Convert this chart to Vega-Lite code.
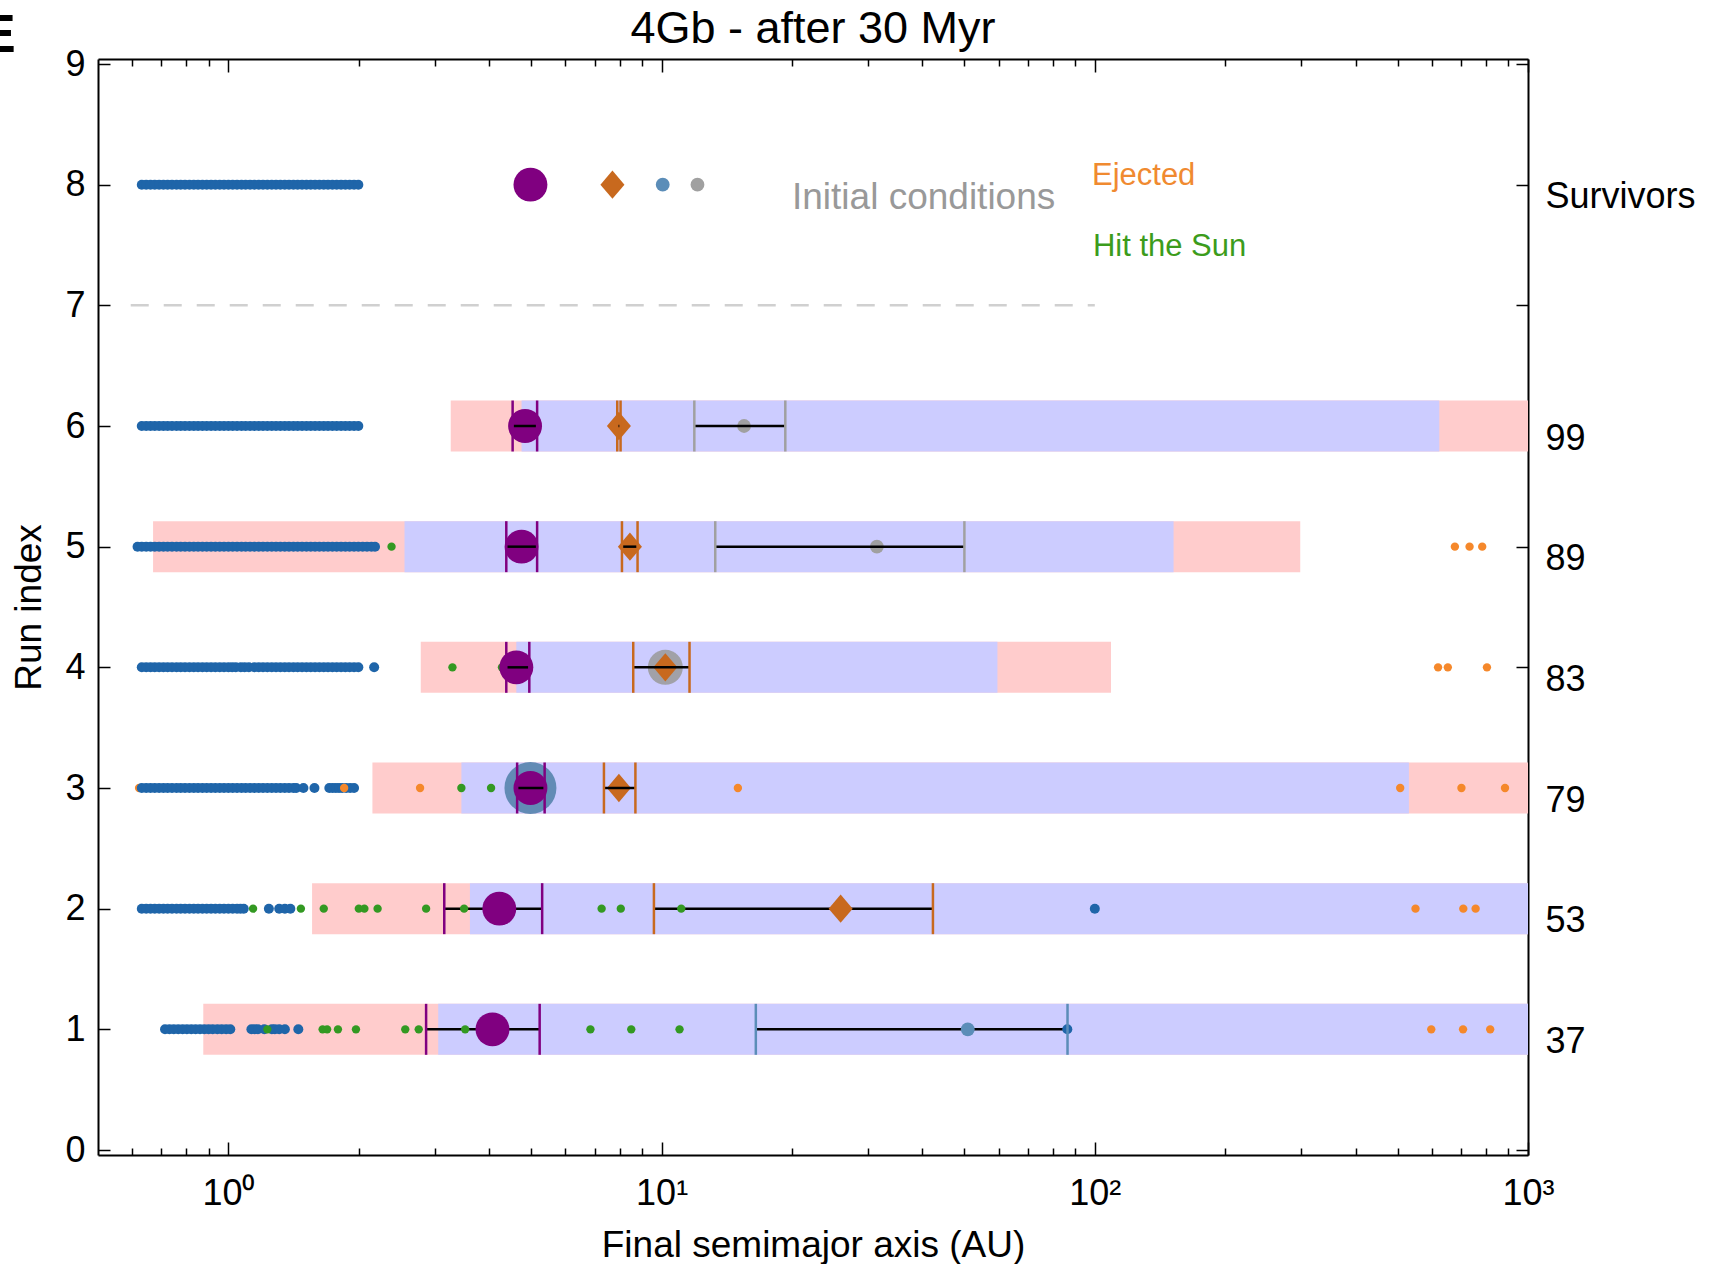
{
  "$schema": "https://vega.github.io/schema/vega-lite/v6.json",
  "width": 1430,
  "height": 1096,
  "autosize": {"type": "none"},
  "padding": {"left": 98, "top": 59, "right": 188, "bottom": 109},
  "background": "white",
  "title": {"text": "4Gb - after 30 Myr", "fontSize": 45, "font": "Liberation Sans", "fontWeight": "normal", "color": "black", "offset": -43, "anchor": "middle"},
  "config": {
    "view": {"stroke": null},
    "axis": {"grid": false, "labelFont": "Liberation Sans", "titleFont": "Liberation Sans", "labelFontSize": 36, "titleFontSize": 37, "titleFontWeight": "normal", "labelColor": "black", "titleColor": "black", "tickColor": "black", "tickWidth": 1.5, "domainColor": "black", "domainWidth": 2, "zindex": 1, "labelOverlap": false, "labelFlush": false}
  },
  "datasets": {
    "bars": [
      {"run": 6, "lo": 3.26, "hi": 1000, "kind": "all"},
      {"run": 5, "lo": 0.67, "hi": 298, "kind": "all"},
      {"run": 4, "lo": 2.78, "hi": 109, "kind": "all"},
      {"run": 3, "lo": 2.15, "hi": 1000, "kind": "all"},
      {"run": 2, "lo": 1.56, "hi": 1000, "kind": "all"},
      {"run": 1, "lo": 0.875, "hi": 1000, "kind": "all"},
      {"run": 6, "lo": 4.75, "hi": 624, "kind": "core"},
      {"run": 5, "lo": 2.55, "hi": 152, "kind": "core"},
      {"run": 4, "lo": 4.62, "hi": 59.6, "kind": "core"},
      {"run": 3, "lo": 3.45, "hi": 531, "kind": "core"},
      {"run": 2, "lo": 3.61, "hi": 1000, "kind": "core"},
      {"run": 1, "lo": 3.05, "hi": 1000, "kind": "core"}
    ],
    "guide": [{"lo": 0.595, "hi": 100, "run": 7}],
    "err": [
      {"run": 6, "body": "Jupiter", "lo": 4.53, "hi": 5.16},
      {"run": 6, "body": "Saturn", "lo": 7.9, "hi": 8.04},
      {"run": 6, "body": "Neptune", "lo": 11.9, "hi": 19.3},
      {"run": 5, "body": "Jupiter", "lo": 4.38, "hi": 5.16},
      {"run": 5, "body": "Saturn", "lo": 8.1, "hi": 8.8},
      {"run": 5, "body": "Neptune", "lo": 13.3, "hi": 50.0},
      {"run": 4, "body": "Jupiter", "lo": 4.38, "hi": 4.95},
      {"run": 4, "body": "Saturn", "lo": 8.6, "hi": 11.6},
      {"run": 3, "body": "Jupiter", "lo": 4.64, "hi": 5.37},
      {"run": 3, "body": "Saturn", "lo": 7.36, "hi": 8.7},
      {"run": 2, "body": "Jupiter", "lo": 3.15, "hi": 5.3},
      {"run": 2, "body": "Saturn", "lo": 9.6, "hi": 42.3},
      {"run": 1, "body": "Jupiter", "lo": 2.86, "hi": 5.23},
      {"run": 1, "body": "Uranus", "lo": 16.5, "hi": 86.5}
    ],
    "halos": [
      {"run": 3, "a": 4.98, "body": "Uranus"},
      {"run": 4, "a": 10.2, "body": "Neptune"}
    ],
    "planets": [
      {"run": 8, "a": 4.98, "body": "Jupiter"},
      {"run": 8, "a": 7.7, "body": "Saturn"},
      {"run": 8, "a": 10.06, "body": "Uranus"},
      {"run": 8, "a": 12.1, "body": "Neptune"},
      {"run": 6, "a": 4.84, "body": "Jupiter"},
      {"run": 6, "a": 7.97, "body": "Saturn"},
      {"run": 6, "a": 15.5, "body": "Neptune"},
      {"run": 5, "a": 4.75, "body": "Jupiter"},
      {"run": 5, "a": 8.45, "body": "Saturn"},
      {"run": 5, "a": 31.4, "body": "Neptune"},
      {"run": 4, "a": 4.62, "body": "Jupiter"},
      {"run": 4, "a": 10.2, "body": "Saturn"},
      {"run": 3, "a": 4.98, "body": "Jupiter"},
      {"run": 3, "a": 7.97, "body": "Saturn"},
      {"run": 2, "a": 4.22, "body": "Jupiter"},
      {"run": 2, "a": 25.9, "body": "Saturn"},
      {"run": 1, "a": 4.07, "body": "Jupiter"},
      {"run": 1, "a": 50.9, "body": "Uranus"}
    ],
    "labels": [
      {"a": 20, "run": 7.89, "label": "Initial conditions", "kind": "init"},
      {"a": 98.5, "run": 8.07, "label": "Ejected", "kind": "ejected"},
      {"a": 99, "run": 7.48, "label": "Hit the Sun", "kind": "sun"}
    ],
    "panel": [{"a": 0.323, "run": 9.23, "label": "E"}],
    "dots": [
      {"run": 8, "a": 0.631, "kind": "survivor"}, {"run": 8, "a": 0.646, "kind": "survivor"}, {"run": 8, "a": 0.661, "kind": "survivor"}, {"run": 8, "a": 0.676, "kind": "survivor"}, {"run": 8, "a": 0.692, "kind": "survivor"}, {"run": 8, "a": 0.708, "kind": "survivor"}, {"run": 8, "a": 0.724, "kind": "survivor"}, {"run": 8, "a": 0.741, "kind": "survivor"}, {"run": 8, "a": 0.759, "kind": "survivor"}, {"run": 8, "a": 0.776, "kind": "survivor"}, {"run": 8, "a": 0.794, "kind": "survivor"}, {"run": 8, "a": 0.813, "kind": "survivor"}, {"run": 8, "a": 0.832, "kind": "survivor"}, {"run": 8, "a": 0.851, "kind": "survivor"}, {"run": 8, "a": 0.871, "kind": "survivor"}, {"run": 8, "a": 0.891, "kind": "survivor"}, {"run": 8, "a": 0.912, "kind": "survivor"}, {"run": 8, "a": 0.933, "kind": "survivor"}, {"run": 8, "a": 0.955, "kind": "survivor"}, {"run": 8, "a": 0.977, "kind": "survivor"}, {"run": 8, "a": 1.0, "kind": "survivor"}, {"run": 8, "a": 1.023, "kind": "survivor"}, {"run": 8, "a": 1.047, "kind": "survivor"}, {"run": 8, "a": 1.072, "kind": "survivor"}, {"run": 8, "a": 1.096, "kind": "survivor"}, {"run": 8, "a": 1.122, "kind": "survivor"}, {"run": 8, "a": 1.148, "kind": "survivor"}, {"run": 8, "a": 1.175, "kind": "survivor"}, {"run": 8, "a": 1.202, "kind": "survivor"}, {"run": 8, "a": 1.23, "kind": "survivor"}, {"run": 8, "a": 1.259, "kind": "survivor"}, {"run": 8, "a": 1.288, "kind": "survivor"}, {"run": 8, "a": 1.318, "kind": "survivor"}, {"run": 8, "a": 1.349, "kind": "survivor"}, {"run": 8, "a": 1.38, "kind": "survivor"}, {"run": 8, "a": 1.413, "kind": "survivor"}, {"run": 8, "a": 1.445, "kind": "survivor"}, {"run": 8, "a": 1.479, "kind": "survivor"}, {"run": 8, "a": 1.514, "kind": "survivor"}, {"run": 8, "a": 1.549, "kind": "survivor"}, {"run": 8, "a": 1.585, "kind": "survivor"}, {"run": 8, "a": 1.622, "kind": "survivor"}, {"run": 8, "a": 1.66, "kind": "survivor"}, {"run": 8, "a": 1.698, "kind": "survivor"}, {"run": 8, "a": 1.738, "kind": "survivor"}, {"run": 8, "a": 1.778, "kind": "survivor"}, {"run": 8, "a": 1.82, "kind": "survivor"}, {"run": 8, "a": 1.862, "kind": "survivor"}, {"run": 8, "a": 1.905, "kind": "survivor"}, {"run": 8, "a": 1.95, "kind": "survivor"}, {"run": 8, "a": 1.995, "kind": "survivor"},
      {"run": 6, "a": 0.631, "kind": "survivor"}, {"run": 6, "a": 0.646, "kind": "survivor"}, {"run": 6, "a": 0.661, "kind": "survivor"}, {"run": 6, "a": 0.676, "kind": "survivor"}, {"run": 6, "a": 0.692, "kind": "survivor"}, {"run": 6, "a": 0.708, "kind": "survivor"}, {"run": 6, "a": 0.724, "kind": "survivor"}, {"run": 6, "a": 0.741, "kind": "survivor"}, {"run": 6, "a": 0.759, "kind": "survivor"}, {"run": 6, "a": 0.776, "kind": "survivor"}, {"run": 6, "a": 0.794, "kind": "survivor"}, {"run": 6, "a": 0.813, "kind": "survivor"}, {"run": 6, "a": 0.832, "kind": "survivor"}, {"run": 6, "a": 0.851, "kind": "survivor"}, {"run": 6, "a": 0.871, "kind": "survivor"}, {"run": 6, "a": 0.891, "kind": "survivor"}, {"run": 6, "a": 0.912, "kind": "survivor"}, {"run": 6, "a": 0.933, "kind": "survivor"}, {"run": 6, "a": 0.955, "kind": "survivor"}, {"run": 6, "a": 0.977, "kind": "survivor"}, {"run": 6, "a": 1.0, "kind": "survivor"}, {"run": 6, "a": 1.023, "kind": "survivor"}, {"run": 6, "a": 1.047, "kind": "survivor"}, {"run": 6, "a": 1.072, "kind": "survivor"}, {"run": 6, "a": 1.096, "kind": "survivor"}, {"run": 6, "a": 1.122, "kind": "survivor"}, {"run": 6, "a": 1.148, "kind": "survivor"}, {"run": 6, "a": 1.175, "kind": "survivor"}, {"run": 6, "a": 1.202, "kind": "survivor"}, {"run": 6, "a": 1.23, "kind": "survivor"}, {"run": 6, "a": 1.259, "kind": "survivor"}, {"run": 6, "a": 1.288, "kind": "survivor"}, {"run": 6, "a": 1.318, "kind": "survivor"}, {"run": 6, "a": 1.349, "kind": "survivor"}, {"run": 6, "a": 1.38, "kind": "survivor"}, {"run": 6, "a": 1.413, "kind": "survivor"}, {"run": 6, "a": 1.445, "kind": "survivor"}, {"run": 6, "a": 1.479, "kind": "survivor"}, {"run": 6, "a": 1.514, "kind": "survivor"}, {"run": 6, "a": 1.549, "kind": "survivor"}, {"run": 6, "a": 1.585, "kind": "survivor"}, {"run": 6, "a": 1.622, "kind": "survivor"}, {"run": 6, "a": 1.66, "kind": "survivor"}, {"run": 6, "a": 1.698, "kind": "survivor"}, {"run": 6, "a": 1.738, "kind": "survivor"}, {"run": 6, "a": 1.778, "kind": "survivor"}, {"run": 6, "a": 1.82, "kind": "survivor"}, {"run": 6, "a": 1.862, "kind": "survivor"}, {"run": 6, "a": 1.905, "kind": "survivor"}, {"run": 6, "a": 1.95, "kind": "survivor"}, {"run": 6, "a": 1.995, "kind": "survivor"},
      {"run": 5, "a": 0.617, "kind": "survivor"}, {"run": 5, "a": 0.631, "kind": "survivor"}, {"run": 5, "a": 0.646, "kind": "survivor"}, {"run": 5, "a": 0.661, "kind": "survivor"}, {"run": 5, "a": 0.676, "kind": "survivor"}, {"run": 5, "a": 0.692, "kind": "survivor"}, {"run": 5, "a": 0.708, "kind": "survivor"}, {"run": 5, "a": 0.724, "kind": "survivor"}, {"run": 5, "a": 0.741, "kind": "survivor"}, {"run": 5, "a": 0.759, "kind": "survivor"}, {"run": 5, "a": 0.776, "kind": "survivor"}, {"run": 5, "a": 0.794, "kind": "survivor"}, {"run": 5, "a": 0.813, "kind": "survivor"}, {"run": 5, "a": 0.832, "kind": "survivor"}, {"run": 5, "a": 0.851, "kind": "survivor"}, {"run": 5, "a": 0.871, "kind": "survivor"}, {"run": 5, "a": 0.891, "kind": "survivor"}, {"run": 5, "a": 0.912, "kind": "survivor"}, {"run": 5, "a": 0.933, "kind": "survivor"}, {"run": 5, "a": 0.955, "kind": "survivor"}, {"run": 5, "a": 0.977, "kind": "survivor"}, {"run": 5, "a": 1.0, "kind": "survivor"}, {"run": 5, "a": 1.023, "kind": "survivor"}, {"run": 5, "a": 1.047, "kind": "survivor"}, {"run": 5, "a": 1.072, "kind": "survivor"}, {"run": 5, "a": 1.096, "kind": "survivor"}, {"run": 5, "a": 1.122, "kind": "survivor"}, {"run": 5, "a": 1.148, "kind": "survivor"}, {"run": 5, "a": 1.175, "kind": "survivor"}, {"run": 5, "a": 1.202, "kind": "survivor"}, {"run": 5, "a": 1.23, "kind": "survivor"}, {"run": 5, "a": 1.259, "kind": "survivor"}, {"run": 5, "a": 1.288, "kind": "survivor"}, {"run": 5, "a": 1.318, "kind": "survivor"}, {"run": 5, "a": 1.349, "kind": "survivor"}, {"run": 5, "a": 1.38, "kind": "survivor"}, {"run": 5, "a": 1.413, "kind": "survivor"}, {"run": 5, "a": 1.445, "kind": "survivor"}, {"run": 5, "a": 1.479, "kind": "survivor"}, {"run": 5, "a": 1.514, "kind": "survivor"}, {"run": 5, "a": 1.549, "kind": "survivor"}, {"run": 5, "a": 1.585, "kind": "survivor"}, {"run": 5, "a": 1.622, "kind": "survivor"}, {"run": 5, "a": 1.66, "kind": "survivor"}, {"run": 5, "a": 1.698, "kind": "survivor"}, {"run": 5, "a": 1.738, "kind": "survivor"}, {"run": 5, "a": 1.778, "kind": "survivor"}, {"run": 5, "a": 1.82, "kind": "survivor"}, {"run": 5, "a": 1.862, "kind": "survivor"}, {"run": 5, "a": 1.905, "kind": "survivor"}, {"run": 5, "a": 1.95, "kind": "survivor"}, {"run": 5, "a": 1.995, "kind": "survivor"}, {"run": 5, "a": 2.042, "kind": "survivor"}, {"run": 5, "a": 2.089, "kind": "survivor"}, {"run": 5, "a": 2.138, "kind": "survivor"}, {"run": 5, "a": 2.18, "kind": "survivor"},
      {"run": 5, "a": 2.38, "kind": "sun"},
      {"run": 5, "a": 678, "kind": "ejected"}, {"run": 5, "a": 733, "kind": "ejected"}, {"run": 5, "a": 784, "kind": "ejected"},
      {"run": 4, "a": 0.631, "kind": "survivor"}, {"run": 4, "a": 0.646, "kind": "survivor"}, {"run": 4, "a": 0.661, "kind": "survivor"}, {"run": 4, "a": 0.676, "kind": "survivor"}, {"run": 4, "a": 0.692, "kind": "survivor"}, {"run": 4, "a": 0.708, "kind": "survivor"}, {"run": 4, "a": 0.724, "kind": "survivor"}, {"run": 4, "a": 0.741, "kind": "survivor"}, {"run": 4, "a": 0.759, "kind": "survivor"}, {"run": 4, "a": 0.776, "kind": "survivor"}, {"run": 4, "a": 0.794, "kind": "survivor"}, {"run": 4, "a": 0.813, "kind": "survivor"}, {"run": 4, "a": 0.832, "kind": "survivor"}, {"run": 4, "a": 0.851, "kind": "survivor"}, {"run": 4, "a": 0.871, "kind": "survivor"}, {"run": 4, "a": 0.891, "kind": "survivor"}, {"run": 4, "a": 0.912, "kind": "survivor"}, {"run": 4, "a": 0.933, "kind": "survivor"}, {"run": 4, "a": 0.955, "kind": "survivor"}, {"run": 4, "a": 0.977, "kind": "survivor"}, {"run": 4, "a": 1.0, "kind": "survivor"}, {"run": 4, "a": 1.02, "kind": "survivor"}, {"run": 4, "a": 1.04, "kind": "survivor"}, {"run": 4, "a": 1.068, "kind": "survivor"}, {"run": 4, "a": 1.09, "kind": "survivor"}, {"run": 4, "a": 1.115, "kind": "survivor"}, {"run": 4, "a": 1.148, "kind": "survivor"}, {"run": 4, "a": 1.175, "kind": "survivor"}, {"run": 4, "a": 1.202, "kind": "survivor"}, {"run": 4, "a": 1.23, "kind": "survivor"}, {"run": 4, "a": 1.259, "kind": "survivor"}, {"run": 4, "a": 1.288, "kind": "survivor"}, {"run": 4, "a": 1.318, "kind": "survivor"}, {"run": 4, "a": 1.349, "kind": "survivor"}, {"run": 4, "a": 1.38, "kind": "survivor"}, {"run": 4, "a": 1.413, "kind": "survivor"}, {"run": 4, "a": 1.445, "kind": "survivor"}, {"run": 4, "a": 1.479, "kind": "survivor"}, {"run": 4, "a": 1.514, "kind": "survivor"}, {"run": 4, "a": 1.549, "kind": "survivor"}, {"run": 4, "a": 1.585, "kind": "survivor"}, {"run": 4, "a": 1.622, "kind": "survivor"}, {"run": 4, "a": 1.66, "kind": "survivor"}, {"run": 4, "a": 1.698, "kind": "survivor"}, {"run": 4, "a": 1.738, "kind": "survivor"}, {"run": 4, "a": 1.778, "kind": "survivor"}, {"run": 4, "a": 1.82, "kind": "survivor"}, {"run": 4, "a": 1.862, "kind": "survivor"}, {"run": 4, "a": 1.905, "kind": "survivor"}, {"run": 4, "a": 1.95, "kind": "survivor"}, {"run": 4, "a": 1.995, "kind": "survivor"}, {"run": 4, "a": 2.17, "kind": "survivor"},
      {"run": 4, "a": 3.29, "kind": "sun"}, {"run": 4, "a": 4.28, "kind": "sun"},
      {"run": 4, "a": 620, "kind": "ejected"}, {"run": 4, "a": 653, "kind": "ejected"}, {"run": 4, "a": 804, "kind": "ejected"},
      {"run": 3, "a": 0.622, "kind": "ejected"},
      {"run": 3, "a": 0.631, "kind": "survivor"}, {"run": 3, "a": 0.646, "kind": "survivor"}, {"run": 3, "a": 0.661, "kind": "survivor"}, {"run": 3, "a": 0.676, "kind": "survivor"}, {"run": 3, "a": 0.692, "kind": "survivor"}, {"run": 3, "a": 0.708, "kind": "survivor"}, {"run": 3, "a": 0.724, "kind": "survivor"}, {"run": 3, "a": 0.741, "kind": "survivor"}, {"run": 3, "a": 0.759, "kind": "survivor"}, {"run": 3, "a": 0.776, "kind": "survivor"}, {"run": 3, "a": 0.794, "kind": "survivor"}, {"run": 3, "a": 0.813, "kind": "survivor"}, {"run": 3, "a": 0.832, "kind": "survivor"}, {"run": 3, "a": 0.851, "kind": "survivor"}, {"run": 3, "a": 0.871, "kind": "survivor"}, {"run": 3, "a": 0.891, "kind": "survivor"}, {"run": 3, "a": 0.912, "kind": "survivor"}, {"run": 3, "a": 0.933, "kind": "survivor"}, {"run": 3, "a": 0.955, "kind": "survivor"}, {"run": 3, "a": 0.977, "kind": "survivor"}, {"run": 3, "a": 1.0, "kind": "survivor"}, {"run": 3, "a": 1.023, "kind": "survivor"}, {"run": 3, "a": 1.047, "kind": "survivor"}, {"run": 3, "a": 1.072, "kind": "survivor"}, {"run": 3, "a": 1.096, "kind": "survivor"}, {"run": 3, "a": 1.122, "kind": "survivor"}, {"run": 3, "a": 1.148, "kind": "survivor"}, {"run": 3, "a": 1.175, "kind": "survivor"}, {"run": 3, "a": 1.202, "kind": "survivor"}, {"run": 3, "a": 1.23, "kind": "survivor"}, {"run": 3, "a": 1.259, "kind": "survivor"}, {"run": 3, "a": 1.288, "kind": "survivor"}, {"run": 3, "a": 1.318, "kind": "survivor"}, {"run": 3, "a": 1.349, "kind": "survivor"}, {"run": 3, "a": 1.38, "kind": "survivor"}, {"run": 3, "a": 1.413, "kind": "survivor"}, {"run": 3, "a": 1.434, "kind": "survivor"}, {"run": 3, "a": 1.49, "kind": "survivor"}, {"run": 3, "a": 1.58, "kind": "survivor"}, {"run": 3, "a": 1.71, "kind": "survivor"}, {"run": 3, "a": 1.74, "kind": "survivor"}, {"run": 3, "a": 1.77, "kind": "survivor"}, {"run": 3, "a": 1.80, "kind": "survivor"}, {"run": 3, "a": 1.83, "kind": "survivor"}, {"run": 3, "a": 1.87, "kind": "survivor"}, {"run": 3, "a": 1.91, "kind": "survivor"}, {"run": 3, "a": 1.95, "kind": "survivor"},
      {"run": 3, "a": 1.85, "kind": "ejected"}, {"run": 3, "a": 2.77, "kind": "ejected"},
      {"run": 3, "a": 3.45, "kind": "sun"}, {"run": 3, "a": 4.04, "kind": "sun"},
      {"run": 3, "a": 15.0, "kind": "ejected"}, {"run": 3, "a": 507, "kind": "ejected"}, {"run": 3, "a": 702, "kind": "ejected"}, {"run": 3, "a": 885, "kind": "ejected"},
      {"run": 2, "a": 0.631, "kind": "survivor"}, {"run": 2, "a": 0.646, "kind": "survivor"}, {"run": 2, "a": 0.661, "kind": "survivor"}, {"run": 2, "a": 0.676, "kind": "survivor"}, {"run": 2, "a": 0.692, "kind": "survivor"}, {"run": 2, "a": 0.708, "kind": "survivor"}, {"run": 2, "a": 0.724, "kind": "survivor"}, {"run": 2, "a": 0.741, "kind": "survivor"}, {"run": 2, "a": 0.759, "kind": "survivor"}, {"run": 2, "a": 0.776, "kind": "survivor"}, {"run": 2, "a": 0.794, "kind": "survivor"}, {"run": 2, "a": 0.813, "kind": "survivor"}, {"run": 2, "a": 0.832, "kind": "survivor"}, {"run": 2, "a": 0.851, "kind": "survivor"}, {"run": 2, "a": 0.871, "kind": "survivor"}, {"run": 2, "a": 0.891, "kind": "survivor"}, {"run": 2, "a": 0.912, "kind": "survivor"}, {"run": 2, "a": 0.933, "kind": "survivor"}, {"run": 2, "a": 0.955, "kind": "survivor"}, {"run": 2, "a": 0.977, "kind": "survivor"}, {"run": 2, "a": 1.0, "kind": "survivor"}, {"run": 2, "a": 1.023, "kind": "survivor"}, {"run": 2, "a": 1.047, "kind": "survivor"}, {"run": 2, "a": 1.066, "kind": "survivor"}, {"run": 2, "a": 1.085, "kind": "survivor"}, {"run": 2, "a": 1.24, "kind": "survivor"}, {"run": 2, "a": 1.31, "kind": "survivor"}, {"run": 2, "a": 1.35, "kind": "survivor"}, {"run": 2, "a": 1.39, "kind": "survivor"}, {"run": 2, "a": 100, "kind": "survivor"},
      {"run": 2, "a": 1.14, "kind": "sun"}, {"run": 2, "a": 1.47, "kind": "sun"}, {"run": 2, "a": 1.66, "kind": "sun"}, {"run": 2, "a": 2.0, "kind": "sun"}, {"run": 2, "a": 2.06, "kind": "sun"}, {"run": 2, "a": 2.21, "kind": "sun"}, {"run": 2, "a": 2.86, "kind": "sun"}, {"run": 2, "a": 3.5, "kind": "sun"}, {"run": 2, "a": 7.27, "kind": "sun"}, {"run": 2, "a": 8.05, "kind": "sun"}, {"run": 2, "a": 11.1, "kind": "sun"},
      {"run": 2, "a": 550, "kind": "ejected"}, {"run": 2, "a": 709, "kind": "ejected"}, {"run": 2, "a": 757, "kind": "ejected"},
      {"run": 1, "a": 0.714, "kind": "survivor"}, {"run": 1, "a": 0.731, "kind": "survivor"}, {"run": 1, "a": 0.748, "kind": "survivor"}, {"run": 1, "a": 0.766, "kind": "survivor"}, {"run": 1, "a": 0.784, "kind": "survivor"}, {"run": 1, "a": 0.802, "kind": "survivor"}, {"run": 1, "a": 0.821, "kind": "survivor"}, {"run": 1, "a": 0.84, "kind": "survivor"}, {"run": 1, "a": 0.86, "kind": "survivor"}, {"run": 1, "a": 0.88, "kind": "survivor"}, {"run": 1, "a": 0.90, "kind": "survivor"}, {"run": 1, "a": 0.92, "kind": "survivor"}, {"run": 1, "a": 0.943, "kind": "survivor"}, {"run": 1, "a": 0.965, "kind": "survivor"}, {"run": 1, "a": 0.988, "kind": "survivor"}, {"run": 1, "a": 1.01, "kind": "survivor"}, {"run": 1, "a": 1.13, "kind": "survivor"}, {"run": 1, "a": 1.15, "kind": "survivor"}, {"run": 1, "a": 1.17, "kind": "survivor"}, {"run": 1, "a": 1.21, "kind": "survivor"}, {"run": 1, "a": 1.26, "kind": "survivor"}, {"run": 1, "a": 1.28, "kind": "survivor"}, {"run": 1, "a": 1.31, "kind": "survivor"}, {"run": 1, "a": 1.35, "kind": "survivor"}, {"run": 1, "a": 1.45, "kind": "survivor"}, {"run": 1, "a": 86.4, "kind": "survivor"},
      {"run": 1, "a": 1.23, "kind": "sun"}, {"run": 1, "a": 1.65, "kind": "sun"}, {"run": 1, "a": 1.69, "kind": "sun"}, {"run": 1, "a": 1.79, "kind": "sun"}, {"run": 1, "a": 1.97, "kind": "sun"}, {"run": 1, "a": 2.56, "kind": "sun"}, {"run": 1, "a": 2.75, "kind": "sun"}, {"run": 1, "a": 3.52, "kind": "sun"}, {"run": 1, "a": 6.85, "kind": "sun"}, {"run": 1, "a": 8.51, "kind": "sun"}, {"run": 1, "a": 11.0, "kind": "sun"},
      {"run": 1, "a": 598, "kind": "ejected"}, {"run": 1, "a": 708, "kind": "ejected"}, {"run": 1, "a": 818, "kind": "ejected"}
    ]
  },
  "resolve": {"axis": {"x": "independent", "y": "independent"}, "scale": {"color": "independent"}},
  "layer": [
    {
      "data": {"name": "bars"},
      "mark": {"type": "bar", "size": 51},
      "encoding": {
        "x": {"field": "lo", "type": "quantitative", "scale": {"type": "log", "domain": [0.5, 1000], "nice": false},
          "axis": {"orient": "bottom", "values": [1, 10, 100, 1000], "labelExpr": "datum.value == 1 ? '10⁰' : datum.value == 10 ? '10¹' : datum.value == 100 ? '10²' : '10³'", "tickSize": -13, "labelPadding": 34, "title": "Final semimajor axis (AU)", "titlePadding": 16, "domain": true}},
        "x2": {"field": "hi"},
        "y": {"field": "run", "type": "quantitative", "scale": {"domain": [0, 9], "nice": false, "zero": false},
          "axis": {"orient": "left", "values": [0, 1, 2, 3, 4, 5, 6, 7, 8, 9], "format": "d", "tickSize": -12, "labelPadding": 25, "title": "Run index", "titlePadding": 16, "domain": true}},
        "color": {"field": "kind", "type": "nominal", "scale": {"domain": ["all", "core"], "range": ["#ffcccc", "#ccccff"]}, "legend": null}
      }
    },
    {
      "data": {"name": "guide"},
      "mark": {"type": "rule", "color": "#d0d0d0", "strokeWidth": 2.5, "strokeDash": [18, 15]},
      "encoding": {
        "x": {"field": "lo", "type": "quantitative", "scale": {"type": "log", "domain": [0.5, 1000], "nice": false},
          "axis": {"orient": "bottom", "values": [0.6, 0.7, 0.8, 0.9, 2, 3, 4, 5, 6, 7, 8, 9, 20, 30, 40, 50, 60, 70, 80, 90, 200, 300, 400, 500, 600, 700, 800, 900], "labels": false, "tickSize": -7, "title": null, "domain": false}},
        "x2": {"field": "hi"},
        "y": {"field": "run", "type": "quantitative", "scale": {"domain": [0, 9], "nice": false, "zero": false},
          "axis": {"orient": "right", "values": [0, 1, 2, 3, 4, 5, 6, 7, 8, 9], "tickSize": -12, "labelPadding": 29, "labelOffset": 12, "labelAlign": "left", "labelExpr": "datum.value == 1 ? '37' : datum.value == 2 ? '53' : datum.value == 3 ? '79' : datum.value == 4 ? '83' : datum.value == 5 ? '89' : datum.value == 6 ? '99' : datum.value == 8 ? 'Survivors' : ''", "title": null, "domain": true}}
      }
    },
    {
      "data": {"name": "err"},
      "transform": [{"filter": "datum.run <= 2"}],
      "mark": {"type": "rule", "color": "black", "strokeWidth": 2.5},
      "encoding": {
        "x": {"field": "lo", "type": "quantitative", "scale": {"type": "log", "domain": [0.5, 1000], "nice": false},
          "axis": {"orient": "top", "values": [1, 10, 100, 1000], "labels": false, "tickSize": -13, "title": null, "domain": true}},
        "x2": {"field": "hi"},
        "y": {"field": "run", "type": "quantitative", "scale": {"domain": [0, 9], "nice": false, "zero": false}, "axis": null}
      }
    },
    {
      "data": {"name": "dots"},
      "mark": {"type": "point", "filled": true, "opacity": 1, "strokeWidth": 0},
      "encoding": {
        "x": {"field": "a", "type": "quantitative", "scale": {"type": "log", "domain": [0.5, 1000], "nice": false},
          "axis": {"orient": "top", "values": [0.6, 0.7, 0.8, 0.9, 2, 3, 4, 5, 6, 7, 8, 9, 20, 30, 40, 50, 60, 70, 80, 90, 200, 300, 400, 500, 600, 700, 800, 900], "labels": false, "tickSize": -7, "title": null, "domain": false}},
        "y": {"field": "run", "type": "quantitative", "scale": {"domain": [0, 9], "nice": false, "zero": false}, "axis": null},
        "color": {"field": "kind", "type": "nominal", "scale": {"domain": ["survivor", "sun", "ejected"], "range": ["#1f65a9", "#339922", "#f5882b"]}, "legend": null},
        "size": {"condition": {"test": "datum.kind == 'survivor'", "value": 100}, "value": 70}
      }
    },
    {
      "data": {"name": "halos"},
      "mark": {"type": "point", "filled": true, "opacity": 0.85, "strokeWidth": 0, "shape": "circle"},
      "encoding": {
        "x": {"field": "a", "type": "quantitative", "scale": {"type": "log", "domain": [0.5, 1000], "nice": false}, "axis": null},
        "y": {"field": "run", "type": "quantitative", "scale": {"domain": [0, 9], "nice": false, "zero": false}, "axis": null},
        "color": {"field": "body", "type": "nominal", "scale": {"domain": ["Uranus", "Neptune"], "range": ["#4f7fa8", "#999999"]}, "legend": null},
        "size": {"condition": {"test": "datum.body == 'Uranus'", "value": 2700}, "value": 1225}
      }
    },
    {
      "data": {"name": "planets"},
      "mark": {"type": "point", "filled": true, "opacity": 1, "strokeWidth": 0},
      "encoding": {
        "x": {"field": "a", "type": "quantitative", "scale": {"type": "log", "domain": [0.5, 1000], "nice": false}, "axis": null},
        "y": {"field": "run", "type": "quantitative", "scale": {"domain": [0, 9], "nice": false, "zero": false}, "axis": null},
        "color": {"field": "body", "type": "nominal", "scale": {"domain": ["Jupiter", "Saturn", "Uranus", "Neptune"], "range": ["#800080", "#c8691e", "#5b8db8", "#a0a0a0"]}, "legend": null},
        "shape": {"condition": {"test": "datum.body == 'Saturn'", "value": "M0,-1L0.85,0L0,1L-0.85,0Z"}, "value": "circle"},
        "size": {"condition": [{"test": "datum.body == 'Jupiter'", "value": 1150}, {"test": "datum.body == 'Saturn'", "value": 800}], "value": 190}
      }
    },
    {
      "data": {"name": "err"},
      "transform": [{"filter": "datum.run >= 3"}],
      "mark": {"type": "rule", "color": "black", "strokeWidth": 2.5},
      "encoding": {
        "x": {"field": "lo", "type": "quantitative", "scale": {"type": "log", "domain": [0.5, 1000], "nice": false}, "axis": null},
        "x2": {"field": "hi"},
        "y": {"field": "run", "type": "quantitative", "scale": {"domain": [0, 9], "nice": false, "zero": false}, "axis": null}
      }
    },
    {
      "data": {"name": "err"},
      "mark": {"type": "tick", "orient": "vertical", "size": 51, "thickness": 2.5, "opacity": 1},
      "encoding": {
        "x": {"field": "lo", "type": "quantitative", "scale": {"type": "log", "domain": [0.5, 1000], "nice": false}, "axis": null},
        "y": {"field": "run", "type": "quantitative", "scale": {"domain": [0, 9], "nice": false, "zero": false}, "axis": null},
        "color": {"field": "body", "type": "nominal", "scale": {"domain": ["Jupiter", "Saturn", "Uranus", "Neptune"], "range": ["#800080", "#c8691e", "#5b8db8", "#a0a0a0"]}, "legend": null}
      }
    },
    {
      "data": {"name": "err"},
      "mark": {"type": "tick", "orient": "vertical", "size": 51, "thickness": 2.5, "opacity": 1},
      "encoding": {
        "x": {"field": "hi", "type": "quantitative", "scale": {"type": "log", "domain": [0.5, 1000], "nice": false}, "axis": null},
        "y": {"field": "run", "type": "quantitative", "scale": {"domain": [0, 9], "nice": false, "zero": false}, "axis": null},
        "color": {"field": "body", "type": "nominal", "scale": {"domain": ["Jupiter", "Saturn", "Uranus", "Neptune"], "range": ["#800080", "#c8691e", "#5b8db8", "#a0a0a0"]}, "legend": null}
      }
    },
    {
      "data": {"name": "labels"},
      "transform": [{"filter": "datum.kind == 'init'"}],
      "mark": {"type": "text", "align": "left", "baseline": "middle", "fontSize": 37, "font": "Liberation Sans", "color": "#999999"},
      "encoding": {
        "x": {"field": "a", "type": "quantitative", "scale": {"type": "log", "domain": [0.5, 1000], "nice": false}, "axis": null},
        "y": {"field": "run", "type": "quantitative", "scale": {"domain": [0, 9], "nice": false, "zero": false}, "axis": null},
        "text": {"field": "label"}
      }
    },
    {
      "data": {"name": "labels"},
      "transform": [{"filter": "datum.kind != 'init'"}],
      "mark": {"type": "text", "align": "left", "baseline": "middle", "fontSize": 31, "font": "Liberation Sans"},
      "encoding": {
        "x": {"field": "a", "type": "quantitative", "scale": {"type": "log", "domain": [0.5, 1000], "nice": false}, "axis": null},
        "y": {"field": "run", "type": "quantitative", "scale": {"domain": [0, 9], "nice": false, "zero": false}, "axis": null},
        "text": {"field": "label"},
        "color": {"field": "kind", "type": "nominal", "scale": {"domain": ["ejected", "sun"], "range": ["#f08a30", "#3c9c1c"]}, "legend": null}
      }
    },
    {
      "data": {"name": "panel"},
      "mark": {"type": "text", "align": "right", "baseline": "middle", "fontSize": 54, "fontWeight": "bold", "font": "Liberation Sans", "color": "black"},
      "encoding": {
        "x": {"field": "a", "type": "quantitative", "scale": {"type": "log", "domain": [0.5, 1000], "nice": false}, "axis": null},
        "y": {"field": "run", "type": "quantitative", "scale": {"domain": [0, 9], "nice": false, "zero": false}, "axis": null},
        "text": {"field": "label"}
      }
    }
  ]
}
